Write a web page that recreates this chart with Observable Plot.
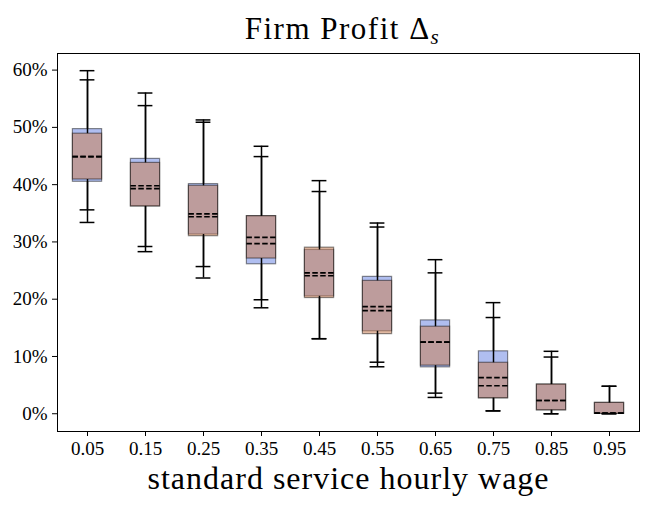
<!DOCTYPE html>
<html>
<head>
<meta charset="utf-8">
<script src="https://cdn.jsdelivr.net/npm/d3@7"></script>
<script src="https://cdn.jsdelivr.net/npm/@observablehq/plot@0.6"></script>
<style>
  html, body { margin: 0; padding: 0; background: #fff; }
</style>
</head>
<body>
<div id="chart"></div>
<script>
const wages = ["0.05","0.15","0.25","0.35","0.45","0.55","0.65","0.75","0.85","0.95"];
const yTicks = [0, 10, 20, 30, 40, 50, 60];

// Series A (blue)
const aQ1  = [40.5, 36.2, 31.3, 26.1, 20.5, 14.4,  8.1,  2.7, 0.6, 0.0];
const aQ3  = [49.7, 44.5, 40.1, 34.5, 28.6, 23.9, 16.3, 10.9, 5.1, 1.9];
const aMed = [44.9, 39.8, 34.9, 29.7, 24.6, 18.7, 12.5,  6.3, 2.3, 0.1];
const aLo  = [33.4, 28.3, 23.7, 18.5, 13.1,  8.2,  2.85, 0.5, 0.0, 0.0];
const aHi  = [59.9, 56.0, 51.3, 46.7, 40.7, 33.3, 26.9, 19.4, 10.9, 4.8];

// Series B (orange)
const bQ1  = [40.9, 36.2, 31.0, 27.1, 20.2, 13.9,  8.4,  2.7, 0.6, 0.0];
const bQ3  = [48.9, 43.8, 39.8, 34.5, 29.0, 23.2, 15.2,  8.9, 5.1, 1.9];
const bMed = [44.9, 39.3, 34.4, 30.8, 24.1, 18.0, 12.5,  4.9, 2.3, 0.1];
const bLo  = [35.6, 29.2, 25.7, 19.9, 13.1,  9.0,  3.6,  0.5, 0.0, 0.0];
const bHi  = [58.3, 53.8, 50.9, 44.9, 38.8, 32.6, 24.6, 16.8, 9.9, 4.8];

const rowsA = wages.map((w, i) => ({w, q1: aQ1[i], q3: aQ3[i], med: aMed[i], lo: aLo[i], hi: aHi[i]}));
const rowsB = wages.map((w, i) => ({w, q1: bQ1[i], q3: bQ3[i], med: bMed[i], lo: bLo[i], hi: bHi[i]}));
const all = rowsA.concat(rowsB);

const FONT = "Liberation Serif";
const boxInset = 14.4;
const capInset = 21.6;

const chart = Plot.plot({
  width: 648,
  height: 505,
  marginLeft: 57,
  marginRight: 9,
  marginTop: 53,
  marginBottom: 74,
  style: {background: "#fff", color: "#000", fontFamily: FONT},
  x: {type: "band", domain: wages, padding: 0, label: null},
  y: {domain: [-3.1, 62.9], label: null},
  marks: [
    Plot.barY(rowsA, {x: "w", y1: "q1", y2: "q3", insetLeft: boxInset, insetRight: boxInset,
      fill: "#b0bef0", stroke: "#000", strokeOpacity: 0.45, strokeWidth: 1.2}),
    Plot.barY(rowsB, {x: "w", y1: "q1", y2: "q3", insetLeft: boxInset, insetRight: boxInset,
      fill: "rgb(200,128,87)", fillOpacity: 0.55, stroke: "#000", strokeOpacity: 0.45, strokeWidth: 1.2}),
    Plot.ruleX(all, {x: "w", y1: "q3", y2: "hi", stroke: "#000", strokeWidth: 1.5}),
    Plot.ruleX(all, {x: "w", y1: "lo", y2: "q1", stroke: "#000", strokeWidth: 1.5}),
    Plot.tickY(all, {x: "w", y: "hi", insetLeft: capInset, insetRight: capInset, stroke: "#000", strokeWidth: 1.5}),
    Plot.tickY(all, {x: "w", y: "lo", insetLeft: capInset, insetRight: capInset, stroke: "#000", strokeWidth: 1.5}),
    Plot.tickY(all, {x: "w", y: "med", insetLeft: boxInset, insetRight: boxInset, stroke: "#000",
      strokeWidth: 1.6, strokeDasharray: "5.5,2.4"}),
    Plot.frame({stroke: "#000", strokeWidth: 1}),
    Plot.axisY({ticks: yTicks, tickFormat: d => d + "%", tickSize: 5, tickPadding: 5,
      fontSize: 19, fontFamily: FONT, label: null}),
    Plot.axisX({tickSize: 5, tickPadding: 5, fontSize: 19, fontFamily: FONT, label: null}),
    Plot.text(["Firm Profit Δ"], {frameAnchor: "top", lineAnchor: "bottom", dy: -15, dx: -6, fontSize: 31, fontFamily: FONT, fill: "#000"}),
    Plot.text(["standard service hourly wage"], {frameAnchor: "bottom", lineAnchor: "bottom", dy: 57, fontSize: 32, fontFamily: FONT, fill: "#000"})
  ]
});

const svg = d3.select(chart.tagName === "svg" ? chart : chart.querySelector("svg"));
svg.selectAll("text").filter(function() { return this.textContent === "Firm Profit Δ"; })
  .style("letter-spacing", "1.5px")
  .append("tspan").attr("dy", "0.25em").attr("font-size", 21).attr("font-style", "italic").text("s");
svg.selectAll("text").filter(function() { return this.textContent === "standard service hourly wage"; })
  .style("letter-spacing", "1px");

document.getElementById("chart").appendChild(chart);
</script>
</body>
</html>
